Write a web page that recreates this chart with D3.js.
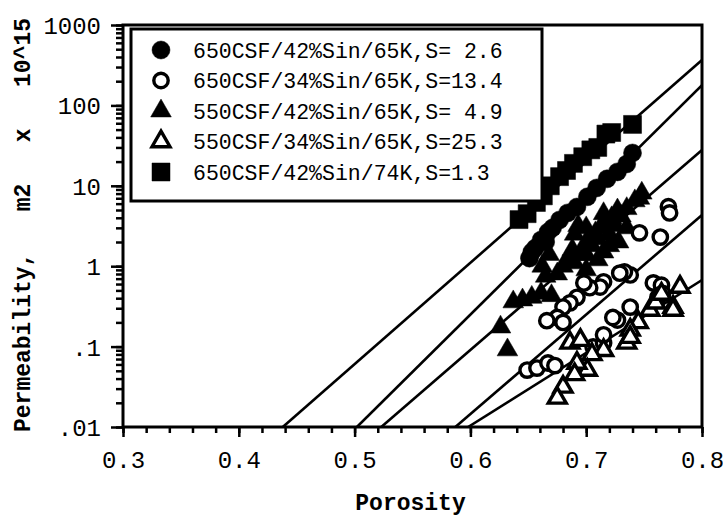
<!DOCTYPE html>
<html><head><meta charset="utf-8">
<script src="https://cdn.jsdelivr.net/npm/d3@7"></script>
<style>body{margin:0;background:#fff}svg{display:block}</style>
</head><body><svg id="c" width="723" height="521"></svg>
<script>
// ---------- data ----------
const porosityTicks = [0.3, 0.4, 0.5, 0.6, 0.7, 0.8];
const permTicks = [1000, 100, 10, 1, 0.1, 0.01];
const permTickLabels = ["1000", "100", "10", "1", ".1", ".01"];
const xTitle = "Porosity";
const yTitle = "Permeability,   m2   x   10^15";
const legendLabels = [
  "650CSF/42%Sin/65K,S= 2.6",
  "650CSF/34%Sin/65K,S=13.4",
  "550CSF/42%Sin/65K,S= 4.9",
  "550CSF/34%Sin/65K,S=25.3",
  "650CSF/42%Sin/74K,S=1.3"
];
// [porosity, permeability]
const filledCircle650_42_65K = [
  [0.651,1.26],[0.653,1.5],[0.656,1.68],[0.661,2.12],[0.665,2.0],[0.667,2.66],[0.671,3.0],
  [0.677,3.76],[0.684,4.6],[0.692,5.45],[0.701,7.3],[0.709,9.4],[0.718,12.2],
  [0.727,14.9],[0.735,18.7],[0.740,25.6]
];
const openCircle650_34_65K = [
  [0.771,5.5],[0.772,4.6],[0.764,2.3],[0.746,2.6],[0.738,0.78],[0.733,0.85],[0.729,0.82],
  [0.715,0.64],[0.712,0.55],[0.703,0.54],[0.698,0.62],[0.692,0.41],[0.686,0.35],[0.680,0.31],
  [0.675,0.23],[0.680,0.20],[0.666,0.21],
  [0.649,0.051],[0.6575,0.054],[0.667,0.0625],[0.673,0.058],[0.706,0.099],[0.715,0.111],
  [0.715,0.14],[0.727,0.214],[0.723,0.23],[0.738,0.31],[0.758,0.62],[0.765,0.58],
  [0.762,0.41],[0.766,0.46]
];
const filledTriangle550_42_65K = [
  [0.626,0.175],[0.632,0.091],[0.637,0.36],[0.645,0.38],[0.653,0.41],[0.661,0.46],
  [0.670,0.43],[0.662,1.0],[0.668,1.4],[0.665,0.75],
  [0.675,0.8],[0.680,1.0],[0.684,1.2],[0.690,1.1],[0.688,1.6],[0.695,1.4],
  [0.700,2.0],[0.705,1.8],[0.708,2.6],[0.712,3.0],[0.718,3.5],[0.722,4.0],[0.727,5.0],
  [0.735,5.2],[0.746,7.0],[0.748,8.1],[0.700,0.9],[0.693,3.2],
  [0.690,2.5],[0.700,3.0],[0.710,2.2],[0.715,1.5],[0.720,2.5],[0.725,3.2],[0.730,4.2],
  [0.700,1.4],[0.710,1.2],[0.720,1.8],[0.728,2.0],[0.735,3.0],[0.715,4.5],[0.742,6.5]
];
const openTriangle550_34_65K = [
  [0.781,0.55],[0.775,0.31],[0.775,0.285],[0.755,0.285],[0.760,0.35],[0.765,0.45],
  [0.745,0.2],[0.738,0.161],[0.735,0.111],[0.738,0.131],[0.715,0.09],[0.705,0.08],
  [0.701,0.051],[0.692,0.0625],[0.680,0.0315],[0.675,0.023],[0.686,0.111],[0.695,0.12],
  [0.690,0.045]
];
const filledSquare650_42_74K = [
  [0.642,3.8],[0.649,4.5],[0.657,6.2],[0.663,7.5],[0.669,10],[0.677,13],[0.683,15.5],
  [0.689,19],[0.697,23],[0.704,28],[0.710,30],[0.717,44],[0.722,46],[0.740,58]
];
// fitted lines: start porosity at k = 0.01, end permeability at porosity 0.8
const fitStartPorosity = [0.438, 0.502, 0.523, 0.587, 0.598];
const fitEndPerm = [367, 179, 27.9, 4.33, 0.673];

// ---------- drawing ----------
const svg = d3.select("#c");
const font = "'Liberation Mono','Courier New',monospace";
const L = 123, R = 702, T = 25, B = 427;
const x = d3.scaleLinear().domain([0.3, 0.8]).range([L, R]);
const y = d3.scaleLog().domain([0.01, 1000]).range([B, T]);

svg.append("rect").attr("width",723).attr("height",521).attr("fill","#fff");

// minor ticks
const xMinor = d3.range(0.3, 0.8001, 0.02).map(v => +v.toFixed(2));
const yMinor = [];
for (let e = -2; e < 3; e++) for (let m = 1; m <= 9; m++) yMinor.push(m * Math.pow(10, e));
yMinor.push(1000);

const gxm = svg.append("g").attr("transform",`translate(0,${B})`)
  .call(d3.axisBottom(x).tickValues(xMinor).tickSize(6).tickFormat(""));
const gx = svg.append("g").attr("transform",`translate(0,${B})`)
  .call(d3.axisBottom(x).tickValues(porosityTicks).tickSize(10).tickPadding(14).tickFormat(d3.format(".1f")));
const gym = svg.append("g").attr("transform",`translate(${L},0)`)
  .call(d3.axisLeft(y).tickValues(yMinor).tickSize(7).tickFormat(""));
const gy = svg.append("g").attr("transform",`translate(${L},0)`)
  .call(d3.axisLeft(y).tickValues(permTicks).tickSize(12).tickPadding(10)
    .tickFormat((d,i) => permTickLabels[permTicks.indexOf(d)]));
[gxm,gx,gym,gy].forEach(g => {
  g.select(".domain").remove();
  g.selectAll("line").attr("stroke","#000").attr("stroke-width",2.5);
  g.selectAll("text").attr("font-family",font).attr("font-size",24).attr("fill","#000");
});
gy.selectAll("text").attr("dy","0.35em");

// clip
svg.append("clipPath").attr("id","clip").append("rect")
  .attr("x",L).attr("y",T).attr("width",R-L).attr("height",B-T);

// fitted lines
const lineGen = d3.line().x(d => x(d[0])).y(d => y(d[1]));
const plot = svg.append("g").attr("clip-path","url(#clip)");
fitStartPorosity.forEach((p0, i) => {
  plot.append("path").attr("d", lineGen([[p0, 0.01],[0.8, fitEndPerm[i]]]))
    .attr("fill","none").attr("stroke","#000").attr("stroke-width",2.6);
});

// markers
const sym = {
  fcirc: d3.symbol().type(d3.symbolCircle).size(Math.PI*9*9),
  ocirc: d3.symbol().type(d3.symbolCircle).size(Math.PI*7.2*7.2),
  ftri: d3.symbol().type(d3.symbolTriangle).size(185),
  otri: d3.symbol().type(d3.symbolTriangle).size(140),
  sq: d3.symbol().type(d3.symbolSquare).size(18*18)
};
function drawMarkers(g, data, kind, cx, cy) {
  const filled = kind[0] !== "o";
  g.selectAll(null).data(data).enter().append("path")
    .attr("d", sym[kind]())
    .attr("transform", d => `translate(${cx ? cx(d) : x(d[0])},${cy ? cy(d) : y(d[1])})`)
    .attr("fill", filled ? "#000" : "#fff")
    .attr("stroke", "#000")
    .attr("stroke-width", filled ? 0.5 : 3.4);
}
drawMarkers(plot, filledSquare650_42_74K, "sq");
drawMarkers(plot, filledCircle650_42_65K, "fcirc");
drawMarkers(plot, filledTriangle550_42_65K, "ftri");
drawMarkers(plot, openCircle650_34_65K, "ocirc");
drawMarkers(plot, openTriangle550_34_65K, "otri");

// frame
svg.append("rect").attr("x",L).attr("y",T).attr("width",R-L).attr("height",B-T)
  .attr("fill","none").attr("stroke","#000").attr("stroke-width",3);

// legend
const lg = svg.append("g");
lg.append("rect").attr("x",131).attr("y",29).attr("width",411).attr("height",172)
  .attr("fill","#fff").attr("stroke","#000").attr("stroke-width",3);
const legendKinds = ["fcirc","ocirc","ftri","otri","sq"];
legendLabels.forEach((lab, i) => {
  const ry = 50 + i * 30.5;
  drawMarkers(lg, [0], legendKinds[i], () => 161, () => ry);
  lg.append("text").attr("x",193).attr("y",ry).attr("dy","0.35em")
    .attr("font-family",font).attr("font-size",21.5).attr("fill","#000")
    .style("white-space","pre").text(lab);
});

// titles
svg.append("text").attr("x",(L+R)/2 - 2).attr("y",510).attr("text-anchor","middle")
  .attr("font-family",font).attr("font-size",23).attr("font-weight","bold").text(xTitle);
svg.append("text").attr("transform","translate(30,225) rotate(-90)").attr("text-anchor","middle")
  .attr("font-family",font).attr("font-size",23).attr("font-weight","bold")
  .style("white-space","pre").text(yTitle);
</script></body></html>
